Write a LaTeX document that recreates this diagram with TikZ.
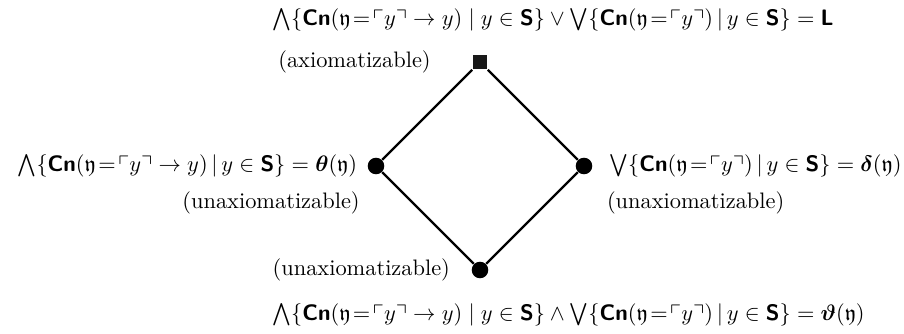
\documentclass[tikz,border=0pt]{standalone}
\usepackage{amsmath,amssymb}
\usetikzlibrary{positioning}

\newcommand{\Cn}{\textsf{\bfseries Cn}}
\newcommand{\Sset}{\textsf{\bfseries S}}
\newcommand{\Lset}{\textsf{\bfseries L}}
\newcommand{\yfrak}{\mathfrak{y}}
\newcommand{\quoted}[1]{\ulcorner #1\urcorner}

\begin{document}
\begin{tikzpicture}[x=0.0157cm, y=-0.0157cm]
    % Define styles
    \tikzset{
        dot/.style={circle, fill=black, inner sep=0pt, minimum size=7.4pt},
        topbox/.style={rectangle, fill=black!90, inner sep=0pt, minimum size=6.6pt},
        edge/.style={line width=1pt},
        formula/.style={anchor=west, inner sep=0pt}
    }

    % Fix the picture size
    \useasboundingbox (0,0) rectangle (904,333);

    % Lattice points
    \node[topbox] (top) at (480,62) {};
    \node[dot] (left) at (376,166) {};
    \node[dot] (right) at (584,166) {};
    \node[dot] (bottom) at (480,270) {};

    % Draw the diamond
    \draw[edge] (top) -- (left) -- (bottom) -- (right) -- (top);

    % Top element
    \node[formula] (toplabel) at (272,20)
        {$\bigwedge\{\Cn(\yfrak\!=\!\quoted{y}\to y)\mid y\in\Sset\}\vee\bigvee\{\Cn(\yfrak\!=\!\quoted{y})\,|\,y\in\Sset\}=\Lset$};
    \node[left=15pt of top] (topnote) {(axiomatizable)};

    % Left element
    \node[left=1pt of left] (leftlabel)
        {$\bigwedge\{\Cn(\yfrak\!=\!\quoted{y}\to y)\,|\,y\in\Sset\}=\boldsymbol{\theta}(\yfrak)$};
    \node[below left=5pt and 1pt of left] (leftnote) {(unaxiomatizable)};

    % Right element
    \node[right=4pt of right] (rightlabel)
        {$\bigvee\{\Cn(\yfrak\!=\!\quoted{y})\,|\,y\in\Sset\}=\boldsymbol{\delta}(\yfrak)$};
    \node[below right=5pt and 4pt of right] (rightnote) {(unaxiomatizable)};

    % Bottom element
    \node[left=6pt of bottom] (bottomnote) {(unaxiomatizable)};
    \node[formula] (bottomlabel) at (272,315)
        {$\bigwedge\{\Cn(\yfrak\!=\!\quoted{y}\to y)\mid y\in\Sset\}\wedge\bigvee\{\Cn(\yfrak\!=\!\quoted{y})\,|\,y\in\Sset\}=\boldsymbol{\vartheta}(\yfrak)$};

\end{tikzpicture}
\end{document}
